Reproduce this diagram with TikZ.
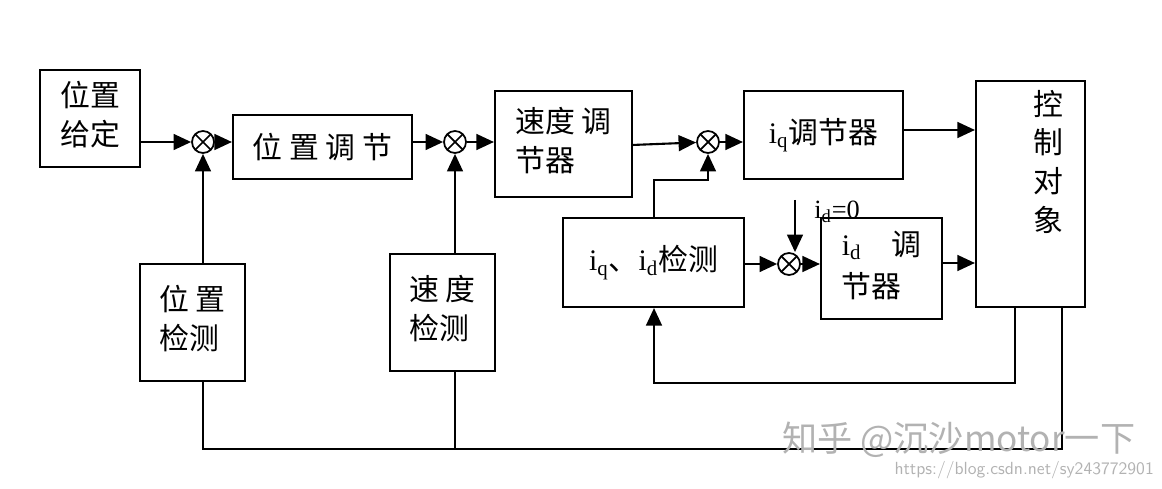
\documentclass[tikz,border=0pt]{standalone}
\usepackage{fontspec}
\setmainfont{Liberation Serif}
\newfontfamily\cjk{Noto Sans CJK SC}
\usetikzlibrary{arrows.meta}
\begin{document}
\begin{tikzpicture}[x=0.02cm,y=-0.02cm,
 box/.style={draw,line width=1.2pt,inner sep=0pt,font=\fontsize{17}{22}\selectfont},
 sum/.style={draw,line width=1pt,circle,minimum size=0.44cm,inner sep=0pt,path picture={\draw[line width=1pt] (path picture bounding box.north west)--(path picture bounding box.south east) (path picture bounding box.north east)--(path picture bounding box.south west);}},
 ln/.style={line width=1.2pt},
 ar/.style={line width=1.2pt,-{Triangle[length=10pt,width=9pt]}}]
\useasboundingbox (0,0) rectangle (1162,489);
\newcommand{\bx}[6]{\node[box,minimum width=#4*0.02cm,minimum height=#5*0.02cm] (#1) at (#2,#3) {#6};}
\bx{pg}{90}{118.5}{100}{97}{\cjk\begin{tabular}{c}位置\\给定\end{tabular}}
\bx{pr}{322.5}{147}{179}{64}{\cjk 位 置 调 节}
\bx{sr}{563.5}{144}{137}{106}{\cjk\begin{tabular}{l}速度 调\\节器\end{tabular}}
\bx{iqr}{823.5}{135}{159}{88}{i\textsubscript{q}{\cjk 调节器}}
\bx{ctl}{1030.5}{194}{109}{226}{}
\node[font=\fontsize{17}{22}\selectfont\cjk,align=center,anchor=north] (ctlt) at (1048,84) {控\\制\\对\\象};
\bx{det}{653.5}{262.5}{181}{89}{i\textsubscript{q}{\cjk 、}i\textsubscript{d}{\cjk 检测}}
\bx{idr}{881.5}{268.5}{121}{101}{\begin{tabular}{l}i\textsubscript{d}\quad{\cjk 调}\\[2pt]{\cjk 节器}\end{tabular}}
\bx{pd}{192.5}{322.5}{105}{117}{\cjk\begin{tabular}{l}位 置\\检测\end{tabular}}
\bx{sd}{442.5}{312.5}{105}{117}{\cjk\begin{tabular}{l}速 度\\检测\end{tabular}}
\node[sum] (s1) at (203,142) {};
\node[sum] (s2) at (455,142) {};
\node[sum] (s3) at (708,142) {};
\node[sum] (s4) at (789,264) {};
\draw[ar] (pg.east|-s1) -- (s1);
\draw[ar] (s1) -- (pr.west|-s1);
\draw[ar] (pr.east|-s2) -- (s2);
\draw[ar] (s2) -- (sr.west|-s2);
\draw[ar] (632,145) -- (s3);
\draw[ar] (s3) -- (iqr.west|-s3);
\draw[ar] (iqr.east|-0,130) -- (ctl.west|-0,130);
\draw[ar] (idr.east|-0,263) -- (ctl.west|-0,263);
\draw[ar] (det.east|-s4) -- (s4);
\draw[ar] (s4) -- (idr.west|-s4);
\coordinate (idref) at (795,200);
\draw[ar] (idref) -- (s4.north -| idref);
\node[font=\fontsize{15}{18}\selectfont,anchor=west,inner sep=0pt] (idl) at (814,212) {i\textsubscript{d}=0};
\draw[ar] (pd.north-|s1) -- (s1);
\draw[ar] (sd.north-|s2) -- (s2);
\draw[ar] (det.north-|654,0) -- (654,180) -- (708,180) -- (s3);
\draw[ar] (ctl.south-|1015,0) -- (1015,383) -- (654,383) -- (det.south-|654,0);
\draw[ln] (pd.south-|203,0) -- (203,449) -- (1062,449) -- (ctl.south-|1062,0);
\draw[ln] (sd.south-|455,0) -- (455,449);
\node[font=\fontsize{20}{24}\selectfont\cjk,text=black!30,anchor=west,inner sep=0pt] (wm) at (782,440) {知乎 @沉沙motor一下};
\node[font=\fontsize{10}{12}\selectfont\sffamily,text=black!30,anchor=east] (url) at (1160,470) {https://blog.csdn.net/sy243772901};
\end{tikzpicture}
\end{document}
